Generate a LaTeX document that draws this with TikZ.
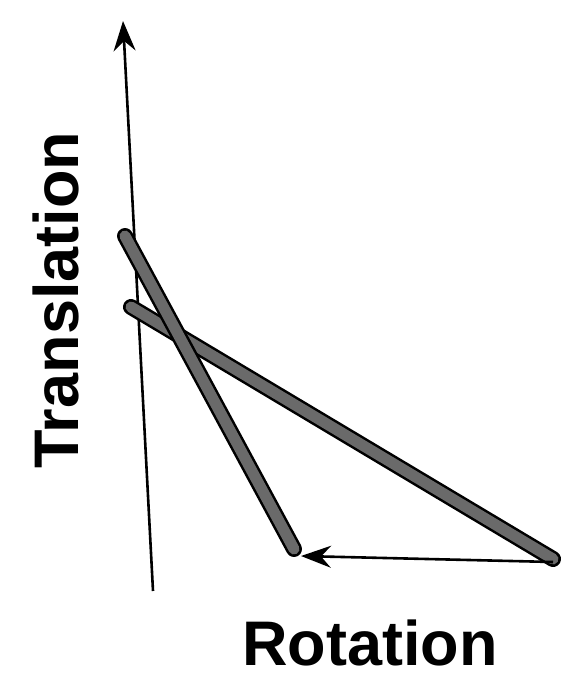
\documentclass[tikz,border=0pt]{standalone}
\usepackage{fontspec}
\setmainfont{Liberation Sans}
\usetikzlibrary{arrows.meta}
\definecolor{rodgray}{HTML}{6A6A6A}
\begin{document}
\begin{tikzpicture}[x=1pt,y=-1pt,
  axisline/.style={line width=2.6pt,-{Stealth[length=30pt,width=22pt,inset=10pt]}},
  rodout/.style={line width=16pt,line cap=round,black},
  rodin/.style={line width=11pt,line cap=round,rodgray},
  lab/.style={font=\bfseries\fontsize{63}{63}\selectfont,inner sep=0pt}]
\useasboundingbox (0,0) rectangle (562,679);
\coordinate (yb) at (153,591);
\coordinate (yt) at (123,21);
\coordinate (hr) at (553,562);
\coordinate (hl) at (301,556);
\coordinate (r1a) at (125,236);
\coordinate (r1b) at (294,549);
\coordinate (r2a) at (131,307);
\coordinate (r2b) at (553,559);
\draw[axisline] (yb) -- (yt);
\draw[rodout] (r2a) -- (r2b);
\draw[rodin] (r2a) -- (r2b);
\draw[rodout] (r1a) -- (r1b);
\draw[rodin] (r1a) -- (r1b);
\draw[axisline] (hr) -- (hl);
\node[lab,rotate=90] (tl) at (56,300) {Translation};
\node[lab] (rl) at (370,643) {Rotation};
\end{tikzpicture}
\end{document}
